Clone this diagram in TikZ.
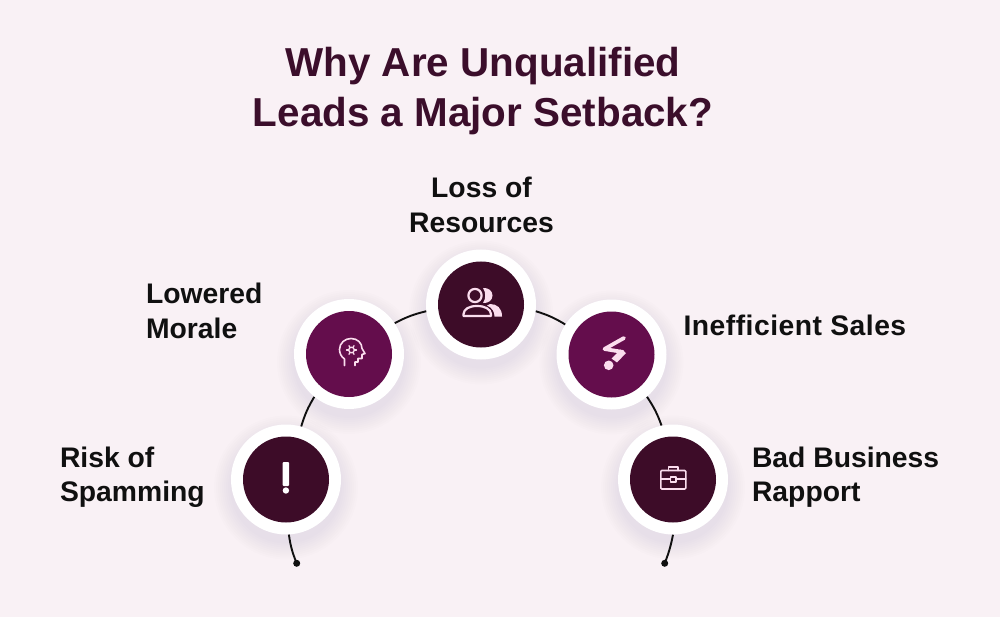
\documentclass[tikz,border=0pt]{standalone}
\usepackage{fontspec}
\setmainfont{Liberation Sans}
\definecolor{bgc}{HTML}{F9F1F5}
\definecolor{darkc}{HTML}{3D0C28}
\definecolor{purplec}{HTML}{640D4C}
\definecolor{titlec}{HTML}{3B0E2B}
\definecolor{inkc}{HTML}{101010}
\definecolor{iconc}{HTML}{FBDDEE}
\definecolor{shadec}{HTML}{606070}
\tikzset{
  ring/.style={circle,fill=white,minimum size=110pt,inner sep=0pt},
  core/.style={circle,minimum size=86pt,inner sep=0pt},
  titletext/.style={text=titlec,font=\fontsize{40.4}{50}\selectfont\bfseries,align=center},
  labeltext/.style={text=inkc,font=\fontsize{28.3}{34.5}\selectfont\bfseries,align=left},
  link/.style={draw=inkc,line width=1.9pt},
  enddot/.style={circle,fill=inkc,minimum size=7pt,inner sep=0pt},
  icon/.style={draw=iconc,line width=1.6pt,line join=round,line cap=round},
}
\newcommand{\softshadow}[2]{%
  \foreach \r in {56,58,...,72}{\fill[shadec,opacity=0.009] (#1,#2+8) circle[radius=\r pt];}}
\begin{document}
\begin{tikzpicture}[x=1pt,y=-1pt]
\useasboundingbox (0,0) rectangle (1000,617);
\fill[bgc] (0,0) rectangle (1000,617);
\softshadow{286}{479.5}
\softshadow{349}{354}
\softshadow{481}{304.5}
\softshadow{611.5}{354.5}
\softshadow{673}{479.5}
\node[titletext] (title) at (483,91.5) {Why Are Unqualified\\Leads a Major Setback?};
\node[ring] (w1) at (286,479.5) {};
\node[ring] (w2) at (349,354) {};
\node[ring] (w3) at (481,304.5) {};
\node[ring] (w4) at (611.5,354.5) {};
\node[ring] (w5) at (673,479.5) {};
\node[core,fill=darkc] (d1) at (w1) {};
\node[core,fill=purplec] (d2) at (w2) {};
\node[core,fill=darkc] (d3) at (w3) {};
\node[core,fill=purplec] (d4) at (w4) {};
\node[core,fill=darkc] (d5) at (w5) {};
\node[enddot] (e1) at (296.7,563.3) {};
\node[enddot] (e5) at (664.7,563.3) {};
\draw[link] (w1.-87) to[bend right=7] (e1.center);
\draw[link] (w1.74.6) to[bend left=7] (w2.231.5);
\draw[link] (w2.34) to[bend left=7] (w3.187.6);
\draw[link] (w3.-7.8) to[bend left=7] (w4.147.6);
\draw[link] (w4.-50.4) to[bend left=7] (w5.102);
\draw[link] (w5.-90) to[bend left=5] (e5.center);
\node[labeltext,anchor=west] (l1) at (56.5,477) {Risk of\\Spamming};
\node[labeltext,anchor=west] (l2) at (142.5,311) {Lowered\\Morale};
\node[labeltext,align=center] (l3) at (481.5,205) {Loss of\\Resources};
\node[labeltext,anchor=west] (l4) at (680,325.5) {\addfontfeature{LetterSpace=1.7}Inefficient Sales};
\node[labeltext,anchor=west] (l5) at (748.5,477) {Bad Business\\Rapport};
% exclamation icon
\fill[white,rounded corners=1pt] (282.6,462) rectangle (289.2,486);
\fill[white] (285.9,490.5) circle[radius=3.2pt];
% head icon
\draw[icon] (344.5,365.5) -- (344.5,359) .. controls (341,356.5) and (339.5,353) .. (339.5,349.5)
  .. controls (339.5,343) and (345,338.5) .. (351,338.5) .. controls (357.5,338.5) and (362,343) .. (362,348.5)
  -- (365,353.5) -- (362,354.5) -- (362,358.5) -- (358,358.5) -- (358,362) -- (355,362) -- (355,365.5);
\draw[icon,line width=1.3pt] (351.5,350) circle[radius=2.8pt];
\foreach \a in {0,60,...,300}{\draw[icon,line width=1.3pt] (351.5,350) ++(\a:3pt) -- ++(\a:2pt);}
% people icon
\fill[iconc] (483,288) .. controls (488.5,287.5) and (492.5,291) .. (492.5,295.5)
  .. controls (492.5,300) and (488.5,303.5) .. (483,303)
  .. controls (486,299) and (486,292) .. (483,288) -- cycle;
\fill[iconc] (490,304) .. controls (497,304) and (502,308) .. (502,316.5) -- (494.5,316.5)
  .. controls (494.5,312) and (492.5,308) .. (487,305.5) -- cycle;
\draw[icon,line width=2.2pt] (475,295.5) circle[radius=6.6pt];
\draw[icon,line width=2.2pt] (463.5,316) -- (463.5,314) .. controls (464,309) and (469,306) .. (477,306)
  .. controls (485,306) and (490.5,309) .. (491,314) -- (491,316) -- cycle;
% bolt icon
\draw[iconc,line width=3.8pt,line join=round,line cap=round] (624,338) -- (604.5,349) -- (623,352);
\fill[iconc] (620.5,349.5) -- (626,353) -- (617,362.5) -- (611.5,358.5) -- cycle;
\fill[iconc] (608.7,365.3) circle[radius=4.8pt];
% briefcase icon
\draw[icon,rounded corners=1pt] (660.8,470.5) rectangle (685.8,489);
\draw[icon] (668.5,470.5) -- (668.5,466.8) -- (677.8,466.8) -- (677.8,470.5);
\draw[icon] (660.8,479) -- (670.5,479) (675.8,479) -- (685.8,479);
\draw[icon] (670.5,477) rectangle (675.8,481.8);
\end{tikzpicture}
\end{document}
